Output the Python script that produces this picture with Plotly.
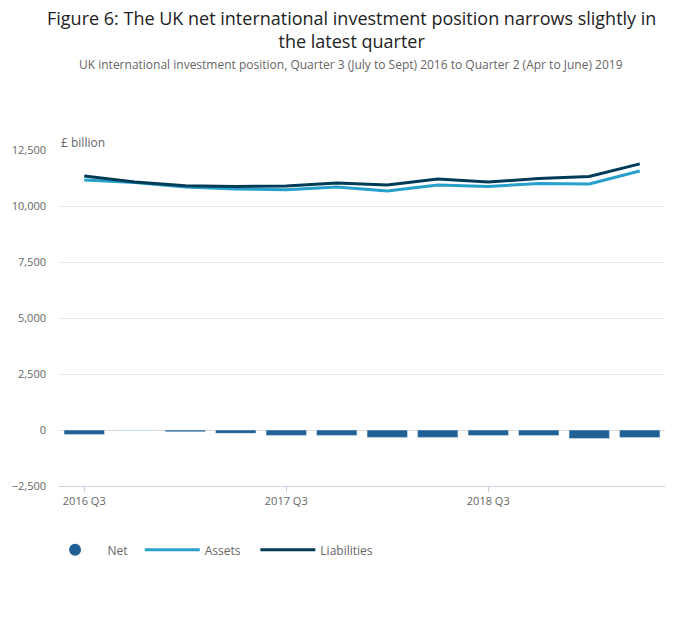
import plotly.graph_objects as go

quarters = ["2016 Q3", "2016 Q4", "2017 Q1", "2017 Q2", "2017 Q3", "2017 Q4",
            "2018 Q1", "2018 Q2", "2018 Q3", "2018 Q4", "2019 Q1", "2019 Q2"]
net = [-200, -15, -80, -150, -240, -240, -330, -330, -250, -250, -380, -340]
assets = [11160, 11050, 10850, 10760, 10720, 10850, 10670, 10940, 10870, 11010, 10980, 11560]
liabilities = [11340, 11070, 10900, 10870, 10890, 11030, 10940, 11210, 11070, 11230, 11320, 11880]
x_tick_labels = ["2016 Q3", "2017 Q3", "2018 Q3"]
y_ticks = [-2500, 0, 2500, 5000, 7500, 10000, 12500]

NET_C = "#206095"
ASSETS_C = "#27a0cc"
LIAB_C = "#003c57"

fig = go.Figure()
fig.add_trace(go.Bar(x=quarters, y=net, name="Net", marker_color=NET_C,
                     showlegend=False))
fig.add_trace(go.Scatter(x=[None], y=[None], mode="markers", name="Net",
                         marker=dict(color=NET_C, size=12, symbol="circle"),
                         legend="legend"))
fig.add_trace(go.Scatter(x=quarters, y=assets, mode="lines", name="Assets",
                         line=dict(color=ASSETS_C, width=3), legend="legend2"))
fig.add_trace(go.Scatter(x=quarters, y=liabilities, mode="lines", name="Liabilities",
                         line=dict(color=LIAB_C, width=3), legend="legend3"))

PW = 608.0  # plot width in px
def px_x(p):
    return (p - 57) / PW

leg_common = dict(orientation="h", xanchor="left", y=-0.19, yanchor="middle",
                  font=dict(size=12, color="#666666"), itemwidth=55,
                  bgcolor="rgba(0,0,0,0)")

fig.update_layout(
    width=700, height=635,
    margin=dict(l=57, r=35, t=150, b=149),
    paper_bgcolor="white", plot_bgcolor="white",
    font=dict(family="Open Sans", color="#666666", size=11),
    bargap=0.2,
    showlegend=True,
    legend=dict(x=px_x(40.5), **leg_common),
    legend2=dict(x=px_x(138), **leg_common),
    legend3=dict(x=px_x(254), **leg_common),
    xaxis=dict(
        type="category", range=[-0.5, 11.5],
        tickmode="array", tickvals=x_tick_labels, ticktext=x_tick_labels,
        ticks="outside", ticklen=5, tickcolor="#ccd3e0",
        showline=True, linecolor="#ccd3e0", linewidth=1,
        showgrid=False, tickfont=dict(size=11, color="#666666"),
    ),
    yaxis=dict(
        range=[-2500, 12500], tickmode="array", tickvals=y_ticks,
        tickformat=",", showgrid=True, gridcolor="#e6e6e6", gridwidth=1,
        zeroline=True, zerolinecolor="#dddddd", zerolinewidth=1,
        ticks="", ticklabelstandoff=12, tickfont=dict(size=11, color="#666666"),
    ),
    annotations=[
        dict(text="Figure 6: The UK net international investment position narrows slightly in<br>the latest quarter",
             xref="paper", yref="paper", x=0.5, xanchor="center", xshift=-11,
             y=1.0, yanchor="top", yshift=146, showarrow=False,
             font=dict(family="Open Sans", size=18, color="#222222")),
        dict(text="UK international investment position, Quarter 3 (July to Sept) 2016 to Quarter 2 (Apr to June) 2019",
             xref="paper", yref="paper", x=0.5, xanchor="center", xshift=-11,
             y=1.0, yanchor="middle", yshift=86, showarrow=False,
             font=dict(size=12, color="#666666")),
        dict(text="£ billion", xref="paper", yref="paper", x=0, xanchor="left",
             y=1.0, yanchor="bottom", yshift=-3, showarrow=False,
             font=dict(size=12, color="#666666")),
    ],
)

fig.write_html("out.html")
